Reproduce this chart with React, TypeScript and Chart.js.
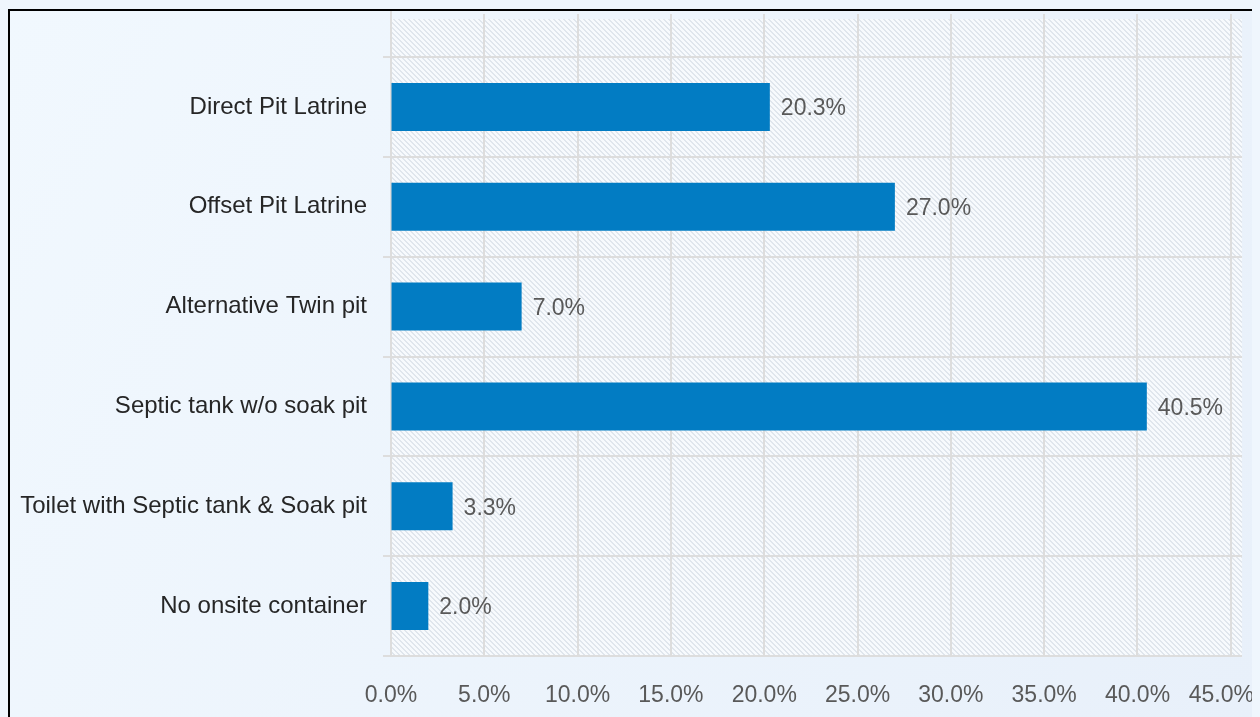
import React, { useEffect, useRef } from "react";
import { Chart, registerables } from "chart.js";

Chart.register(...registerables);

const categories = [
  "Direct Pit Latrine",
  "Offset Pit Latrine",
  "Alternative Twin pit",
  "Septic tank w/o soak pit",
  "Toilet with Septic tank & Soak pit",
  "No onsite container",
];
const shares = [20.3, 27.0, 7.0, 40.5, 3.3, 2.0];
const tickValues = [0, 5, 10, 15, 20, 25, 30, 35, 40, 45];
const axisMax = 45.6;

const FONT = "'Liberation Sans', Arial, sans-serif";
const GRID = "#DDDDDD";

const bgPlugin = {
  id: "bgPlugin",
  beforeDraw(chart: any) {
    const { ctx, chartArea: a, scales } = chart;
    const x = scales.x;
    ctx.save();
    const g = ctx.createLinearGradient(0, 0, chart.width, chart.height);
    g.addColorStop(0, "#F1F8FE");
    g.addColorStop(1, "#E8F0FA");
    ctx.fillStyle = g;
    ctx.fillRect(0, 0, chart.width, chart.height);

    const tile = document.createElement("canvas");
    tile.width = 5;
    tile.height = 5;
    const tc = tile.getContext("2d")!;
    tc.fillStyle = "#F7FAFD";
    tc.fillRect(0, 0, 5, 5);
    tc.fillStyle = "#E0E6ED";
    for (let i = 0; i < 5; i++) {
      tc.fillRect(i, i, 1, 1);
      tc.fillRect((i + 1) % 5, i, 1, 1);
    }
    const pat = ctx.createPattern(tile, "repeat");
    ctx.fillStyle = pat;
    const top = 8;
    ctx.fillRect(a.left, top, a.right - a.left, a.bottom - top);

    ctx.strokeStyle = GRID;
    ctx.lineWidth = 2;
    tickValues.forEach((v) => {
      if (v === 0) return;
      const px = Math.round(x.getPixelForValue(v));
      ctx.beginPath();
      ctx.moveTo(px, 3);
      ctx.lineTo(px, a.bottom);
      ctx.stroke();
    });
    const p0 = Math.round(x.getPixelForValue(0));
    ctx.beginPath();
    ctx.moveTo(p0, 0);
    ctx.lineTo(p0, a.bottom);
    ctx.stroke();

    // x tick labels
    ctx.font = `23px ${FONT}`;
    ctx.fillStyle = "#595959";
    ctx.textAlign = "center";
    ctx.textBaseline = "middle";
    tickValues.forEach((v) => {
      const txt = v.toFixed(1) + "%";
      const w = ctx.measureText(txt).width;
      let px = x.getPixelForValue(v);
      px = Math.min(px, chart.width - w / 2 - 1);
      ctx.fillText(txt, px, a.bottom + 40);
    });
    ctx.restore();
  },
};

const labelPlugin = {
  id: "labelPlugin",
  afterDatasetsDraw(chart: any) {
    const { ctx } = chart;
    const meta = chart.getDatasetMeta(0);
    ctx.save();
    ctx.font = `23px ${FONT}`;
    ctx.fillStyle = "#595959";
    ctx.textAlign = "left";
    ctx.textBaseline = "middle";
    meta.data.forEach((bar: any, i: number) => {
      ctx.fillText(shares[i].toFixed(1) + "%", bar.x + 11, bar.y + 2);
    });
    ctx.restore();
  },
};

export default function App() {
  const ref = useRef<HTMLCanvasElement>(null);

  useEffect(() => {
    document.body.style.overflow = "hidden";
    document.documentElement.style.background = "#EFF6FD";
    const chart = new Chart(ref.current!, {
      type: "bar",
      data: {
        labels: categories,
        datasets: [
          {
            data: shares,
            backgroundColor: "#027CC3",
            barPercentage: 0.48,
            categoryPercentage: 1,
          },
        ],
      },
      options: {
        indexAxis: "y",
        responsive: false,
        animation: false,
        layout: { padding: { top: 46, right: 13, bottom: 0, left: 0 } },
        plugins: {
          legend: { display: false },
          tooltip: { enabled: false },
        },
        scales: {
          x: {
            min: 0,
            max: axisMax,
            afterBuildTicks: (s: any) => {
              s.ticks = tickValues.map((v) => ({ value: v }));
            },
            afterFit: (s: any) => {
              s.height = 61;
              s.paddingLeft = 0;
              s.paddingRight = 0;
            },
            grid: { drawOnChartArea: false, drawTicks: false },
            border: { display: false },
            ticks: { display: false },
          },
          y: {
            afterFit: (s: any) => {
              s.width = 381;
              s.paddingTop = 0;
              s.paddingBottom = 0;
            },
            grid: { color: GRID, lineWidth: 2, tickLength: 8, offset: true },
            border: { display: false },
            ticks: {
              padding: 16,
              color: "#262626",
              font: { family: FONT, size: 24 },
            },
          },
        },
      },
      plugins: [bgPlugin, labelPlugin],
    });
    return () => chart.destroy();
  }, []);

  return (
    <div
      style={{
        position: "relative",
        top: 1,
        border: "2px solid #000",
        width: 1245,
        height: 720,
        background: "#EDF4FC",
      }}
    >
      <canvas ref={ref} width={1245} height={706} style={{ display: "block" }} />
    </div>
  );
}
